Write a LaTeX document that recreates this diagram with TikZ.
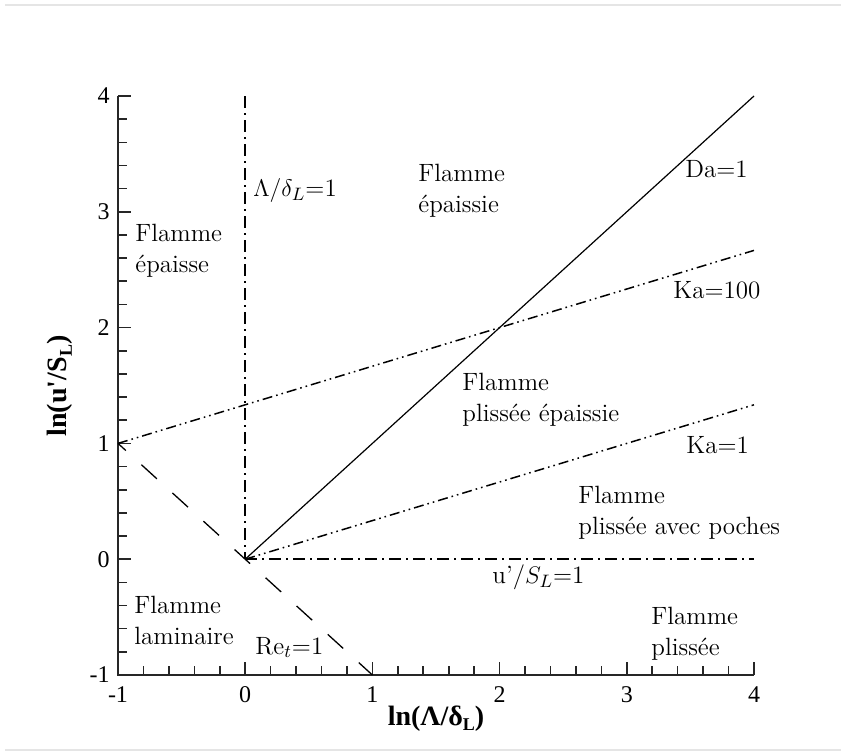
\documentclass[tikz,border=0pt]{standalone}
\usepackage{fontspec}
\newfontfamily\timesf{Liberation Serif}
\newcommand\lsub[1]{\raisebox{-0.4ex}{\fontsize{9}{9}\selectfont #1}}
\begin{document}
\begin{tikzpicture}[x=0.5pt,y=-0.5pt,
  lbl/.style={font=\fontsize{12.5}{15.5}\selectfont, inner sep=0pt, align=left, anchor=base west},
  ticklbl/.style={font=\timesf\fontsize{12}{14}\selectfont, inner sep=0pt},
  axtitle/.style={font=\timesf\bfseries\fontsize{14}{16}\selectfont, inner sep=0pt},
  axisline/.style={line width=0.9pt, black!85},
  tickmark/.style={line width=0.8pt, black!85},
  solidline/.style={line width=0.6pt},
  dashdotline/.style={line width=0.8pt, dash pattern=on 6pt off 2.5pt on 1pt off 2.5pt},
  dashdotdotline/.style={line width=0.75pt, dash pattern=on 5pt off 2pt on 0.8pt off 2pt on 0.8pt off 2pt},
  dashline/.style={line width=0.65pt, dash pattern=on 10.5pt off 10.5pt, dash phase=5.2pt},
  frameline/.style={line width=0.8pt, black!10}]
\fill[white] (0,0) rectangle (841,755);
\useasboundingbox (0,0) rectangle (841,755);
\draw[frameline] (5,5) -- (841,5);
\draw[frameline] (5,750) -- (841,750);

% data scope
\begin{scope}[shift={(245.2,559.2)}, x=63.6pt, y=57.9pt]
  \coordinate (O) at (0,0);
  \coordinate (Top0) at (0,4);
  \coordinate (Right0) at (4,0);
  \coordinate (Da4) at (4,4);
  \coordinate (KaA) at (-1,1);
  \coordinate (KaB) at (4,{8/3});
  \coordinate (KaOne) at (4,{4/3});
  \coordinate (ReEnd) at (1,-1);
  \coordinate (AxTop) at (-1,4);
  \coordinate (AxCorner) at (-1,-1);
  \coordinate (AxRight) at (4,-1);

  % axes
  \draw[axisline] (AxTop) -- (AxCorner) -- (AxRight);
  \foreach \k in {0,...,25} {
    \pgfmathsetmacro\tl{mod(\k,5)==0 ? 6.5 : 4.5}
    \draw[tickmark] ({-1+\k/5},-1) -- ++(0,\tl pt);
    \draw[tickmark] (-1,{-1+\k/5}) -- ++(\tl pt,0);
  }

  % curves
  \draw[dashdotline] (Top0) -- (O);
  \draw[dashdotline] (O) -- (Right0);
  \draw[solidline] (O) -- (Da4);
  \draw[dashdotdotline] (KaA) -- (KaB);
  \draw[dashdotdotline] (O) -- (KaOne);
  \draw[dashline] (KaA) -- (ReEnd);
\end{scope}

% tick labels
\foreach \v/\n in {-1/a,0/b,1/c,2/d,3/e,4/f} {
  \node[ticklbl, anchor=east] (yl\n) at (110,{559.2-115.8*\v}) {\v};
  \node[ticklbl] (xl\n) at ({245.2+127.2*\v},695) {\v};
}

% axis titles
\node[axtitle, anchor=base] (xt) at (436,725) {ln(Λ/δ\lsub{L})};
\node[axtitle, rotate=90] (yt) at (60,386) {ln(u'/S\lsub{L})};

% region labels (base anchor = baseline of last line)
\node[lbl] (epaisse) at (135,272) {Flamme\\épaisse};
\node[lbl] (lambda) at (253,196) {$\Lambda/\delta_L$=1};
\node[lbl] (epaissie) at (418,212) {Flamme\\épaissie};
\node[lbl] (da) at (685,177) {Da=1};
\node[lbl] (kahundred) at (673,298) {Ka=100};
\node[lbl] (ple) at (462,421) {Flamme\\plissée épaissie};
\node[lbl] (kaone) at (686,453) {Ka=1};
\node[lbl] (plp) at (578,534) {Flamme\\plissée avec poches};
\node[lbl] (usl) at (492,583) {u'/$S_L$=1};
\node[lbl] (lam) at (134,644) {Flamme\\laminaire};
\node[lbl] (ret) at (255,654) {Re$_t$=1};
\node[lbl] (pl) at (651,655) {Flamme\\plissée};
\end{tikzpicture}
\end{document}
